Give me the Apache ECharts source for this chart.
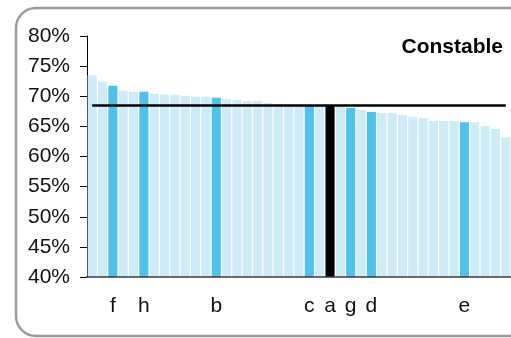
<!DOCTYPE html>
<html>
<head>
    <meta charset="utf-8">
    <title>Constable</title>
    <script src="https://cdn.jsdelivr.net/npm/echarts@6/dist/echarts.min.js"></script>
    <style>
        html, body { margin: 0; padding: 0; background: #fff; overflow: hidden; }
        #main { width: 511px; height: 338px; }
    </style>
</head>
<body>
<div id="main"></div>
<script>
    // share per rank, in %
    var shareValues = [73.5, 72.4, 71.75, 70.9, 70.75, 70.75, 70.4, 70.25, 70.25, 70.1,
        69.9, 69.9, 69.75, 69.55, 69.4, 69.2, 69.2, 68.9, 68.7, 68.6,
        68.5, 68.5, 68.45, 68.45, 68.4, 68.05, 67.7, 67.4, 67.2, 67.2,
        66.9, 66.55, 66.4, 65.9, 65.9, 65.9, 65.7, 65.7, 65.05, 64.55,
        63.2];
    var tickLabels = ['', '', 'f', '', '', 'h', '', '', '', '',
        '', '', 'b', '', '', '', '', '', '', '',
        '', 'c', '', 'a', '', 'g', '', 'd', '', '',
        '', '', '', '', '', '', 'e', '', '', '',
        ''];
    var yTicks = [40, 45, 50, 55, 60, 65, 70, 75, 80];
    var refLevel = 68.45;
    var chartTitle = 'Constable';

    var font = '"Liberation Sans", Arial, sans-serif';

    var barData = shareValues.map(function (v, i) {
        var lab = tickLabels[i];
        var c = '#cdecf8';
        if (lab === 'a') c = '#000000';
        else if (lab !== '') c = '#4bc3ec';
        return {value: v, itemStyle: {color: c}};
    });

    // frame, open on the right because the picture is cut there
    var frameStyle = {fill: 'none', stroke: '#9b9b9b', lineWidth: 2.5};
    var frame = [
        {type: 'polyline', shape: {points: [[700, 8], [36, 8]]}},
        {type: 'arc', shape: {cx: 36, cy: 28, r: 20, startAngle: Math.PI, endAngle: Math.PI * 1.5}},
        {type: 'polyline', shape: {points: [[16, 28], [16, 316]]}},
        {type: 'arc', shape: {cx: 36, cy: 316, r: 20, startAngle: Math.PI * 0.5, endAngle: Math.PI}},
        {type: 'polyline', shape: {points: [[36, 336], [700, 336]]}}
    ].map(function (el) {
        el.z = -10;
        el.silent = true;
        el.style = frameStyle;
        return el;
    });

    var myChart = echarts.init(document.getElementById('main'), null, {renderer: 'canvas'});
    myChart.setOption({
        animation: false,
        backgroundColor: '#fff',
        title: {
            text: chartTitle,
            right: 3,
            top: 32,
            textStyle: {fontFamily: font, fontWeight: 'bold', fontSize: 21, color: '#000'}
        },
        graphic: frame,
        grid: {left: 87, top: 36, width: 428.5, height: 241},
        xAxis: {
            type: 'category',
            data: tickLabels,
            z: 5,
            axisLine: {lineStyle: {color: 'rgba(50,60,65,0.75)', width: 2}},
            axisTick: {show: false},
            axisLabel: {
                interval: 0,
                margin: 19,
                fontFamily: font,
                fontSize: 21,
                color: '#111'
            }
        },
        yAxis: {
            type: 'value',
            min: yTicks[0],
            max: yTicks[yTicks.length - 1],
            interval: 5,
            axisLine: {show: true, lineStyle: {color: '#000', width: 1}},
            axisTick: {show: true, length: 7, lineStyle: {color: '#000'}},
            splitLine: {show: false},
            axisLabel: {
                margin: 17,
                fontFamily: font,
                fontSize: 21,
                color: '#111',
                formatter: '{value}%'
            }
        },
        series: [{
            type: 'bar',
            data: barData,
            barCategoryGap: '12%',
            markLine: {
                silent: true,
                symbol: 'none',
                label: {show: false},
                lineStyle: {color: '#000', width: 2.5, type: 'solid'},
                data: [[{coord: [0, refLevel]}, {coord: [shareValues.length - 1, refLevel]}]]
            }
        }]
    });
</script>
</body>
</html>
